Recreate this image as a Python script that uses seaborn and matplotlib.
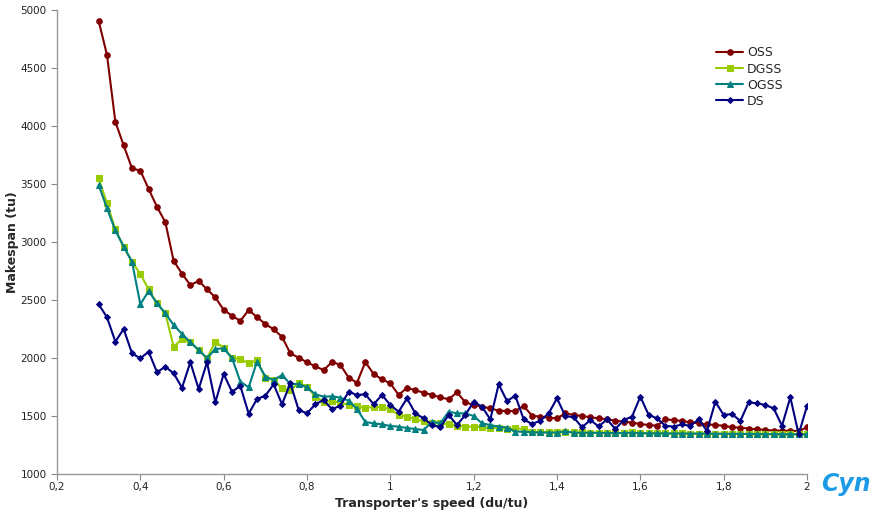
import matplotlib
matplotlib.use("Agg")
import matplotlib.pyplot as plt
import seaborn as sns
import pandas as pd
from matplotlib.ticker import FuncFormatter

speed = [0.30, 0.32, 0.34, 0.36, 0.38, 0.40, 0.42, 0.44, 0.46, 0.48,
         0.50, 0.52, 0.54, 0.56, 0.58, 0.60, 0.62, 0.64, 0.66, 0.68,
         0.70, 0.72, 0.74, 0.76, 0.78, 0.80, 0.82, 0.84, 0.86, 0.88,
         0.90, 0.92, 0.94, 0.96, 0.98, 1.00, 1.02, 1.04, 1.06, 1.08,
         1.10, 1.12, 1.14, 1.16, 1.18, 1.20, 1.22, 1.24, 1.26, 1.28,
         1.30, 1.32, 1.34, 1.36, 1.38, 1.40, 1.42, 1.44, 1.46, 1.48,
         1.50, 1.52, 1.54, 1.56, 1.58, 1.60, 1.62, 1.64, 1.66, 1.68,
         1.70, 1.72, 1.74, 1.76, 1.78, 1.80, 1.82, 1.84, 1.86, 1.88,
         1.90, 1.92, 1.94, 1.96, 1.98, 2.00]

oss = [4905, 4612, 4037, 3833, 3635, 3615, 3457, 3303, 3171, 2836,
       2727, 2629, 2664, 2592, 2523, 2414, 2365, 2319, 2414, 2352,
       2293, 2247, 2183, 2040, 2003, 1963, 1928, 1896, 1965, 1942,
       1830, 1787, 1965, 1862, 1816, 1782, 1681, 1744, 1721, 1702,
       1681, 1661, 1644, 1704, 1618, 1595, 1580, 1566, 1546, 1543,
       1543, 1586, 1503, 1494, 1485, 1480, 1523, 1509, 1500, 1489,
       1480, 1471, 1460, 1451, 1443, 1431, 1422, 1416, 1471, 1465,
       1457, 1446, 1437, 1428, 1422, 1416, 1403, 1400, 1391, 1386,
       1380, 1374, 1374, 1372, 1371, 1403]

dgss = [3549, 3333, 3109, 2960, 2830, 2724, 2592, 2471, 2385, 2097,
        2164, 2135, 2069, 1997, 2141, 2089, 2003, 1991, 1954, 1980,
        1830, 1810, 1739, 1724, 1782, 1753, 1667, 1623, 1629, 1615,
        1595, 1586, 1566, 1580, 1575, 1558, 1509, 1494, 1471, 1455,
        1443, 1437, 1428, 1416, 1408, 1408, 1403, 1394, 1400, 1388,
        1394, 1386, 1365, 1362, 1362, 1360, 1365, 1360, 1358, 1357,
        1356, 1355, 1355, 1354, 1358, 1353, 1352, 1352, 1351, 1350,
        1350, 1349, 1349, 1348, 1348, 1347, 1347, 1346, 1346, 1345,
        1345, 1344, 1344, 1343, 1343, 1342]

ogss = [3491, 3290, 3100, 2960, 2830, 2463, 2577, 2471, 2385, 2284,
        2207, 2135, 2069, 1997, 2078, 2083, 2000, 1796, 1747, 1969,
        1840, 1810, 1853, 1776, 1776, 1747, 1687, 1667, 1670, 1658,
        1632, 1560, 1448, 1437, 1428, 1414, 1408, 1397, 1388, 1379,
        1451, 1437, 1537, 1523, 1523, 1500, 1437, 1422, 1408, 1400,
        1365, 1365, 1359, 1358, 1357, 1357, 1368, 1356, 1355, 1355,
        1354, 1353, 1353, 1352, 1356, 1351, 1351, 1350, 1350, 1349,
        1349, 1348, 1348, 1347, 1347, 1346, 1346, 1345, 1345, 1344,
        1344, 1343, 1343, 1342, 1342, 1341]

ds = [2463, 2351, 2141, 2250, 2040, 1997, 2054, 1877, 1925, 1868,
      1744, 1963, 1733, 1963, 1618, 1862, 1709, 1759, 1520, 1646,
      1675, 1773, 1601, 1782, 1552, 1523, 1601, 1638, 1558, 1589,
      1709, 1681, 1687, 1601, 1681, 1595, 1537, 1652, 1523, 1480,
      1422, 1403, 1509, 1422, 1509, 1623, 1580, 1471, 1773, 1629,
      1675, 1471, 1431, 1460, 1523, 1652, 1500, 1489, 1403, 1465,
      1410, 1471, 1388, 1465, 1494, 1667, 1509, 1480, 1416, 1408,
      1428, 1414, 1471, 1371, 1623, 1509, 1517, 1457, 1618, 1609,
      1595, 1566, 1416, 1661, 1342, 1586]

series_names = ["OSS", "DGSS", "OGSS", "DS"]
series_values = [oss, dgss, ogss, ds]
colors = ["#800000", "#99cc00", "#008080", "#000080"]
markers = ["o", "s", "^", "D"]
msizes = [4, 4, 4.5, 3]

x_ticks = [0.2, 0.4, 0.6, 0.8, 1.0, 1.2, 1.4, 1.6, 1.8, 2.0]
y_ticks = [1000, 1500, 2000, 2500, 3000, 3500, 4000, 4500, 5000]

sns.set_style("ticks")
plt.rcParams["font.family"] = ["DejaVu Sans"]

fig = plt.figure(figsize=(8.86, 5.12), dpi=100)
ax = fig.add_axes([57 / 886, 38 / 512, 750 / 886, 464 / 512])

for name, vals, c, m, ms in zip(series_names, series_values, colors, markers, msizes):
    df = pd.DataFrame({"speed": speed, "makespan": vals})
    sns.lineplot(data=df, x="speed", y="makespan", ax=ax, color=c, marker=m,
                 markersize=ms, markeredgecolor=c, linewidth=1.5, label=name)

ax.set_xlim(0.2, 2.0)
ax.set_ylim(1000, 5000)
ax.set_xticks(x_ticks)
ax.set_yticks(y_ticks)


def fmt(v, pos):
    s = ("%.1f" % v).rstrip("0").rstrip(".")
    return s.replace(".", ",")


ax.xaxis.set_major_formatter(FuncFormatter(fmt))
ax.tick_params(axis="both", colors="#888888", labelcolor="#222222",
               labelsize=7.5, length=4, width=0.8, direction="out")
ax.tick_params(axis="x", pad=2)
for side in ["top", "right"]:
    ax.spines[side].set_visible(False)
for side in ["left", "bottom"]:
    ax.spines[side].set_color("#999999")
    ax.spines[side].set_linewidth(1.0)

ax.set_xlabel("Transporter's speed (du/tu)", fontsize=9, fontweight="bold", labelpad=3)
ax.set_ylabel("Makespan (tu)", fontsize=9, fontweight="bold")
ax.yaxis.set_label_coords(-0.051, 0.5)

leg = ax.legend(loc="upper left", bbox_to_anchor=(0.87, 0.935), frameon=False,
                fontsize=9, handlelength=2.2, handletextpad=0.3, labelspacing=0.25,
                borderpad=0)

fig.text(0.955, 0.055, "Cyn", color="#1e9be6", fontsize=17, fontweight="bold",
         style="italic", ha="center", va="center")

fig.savefig("out.png", dpi=100)
